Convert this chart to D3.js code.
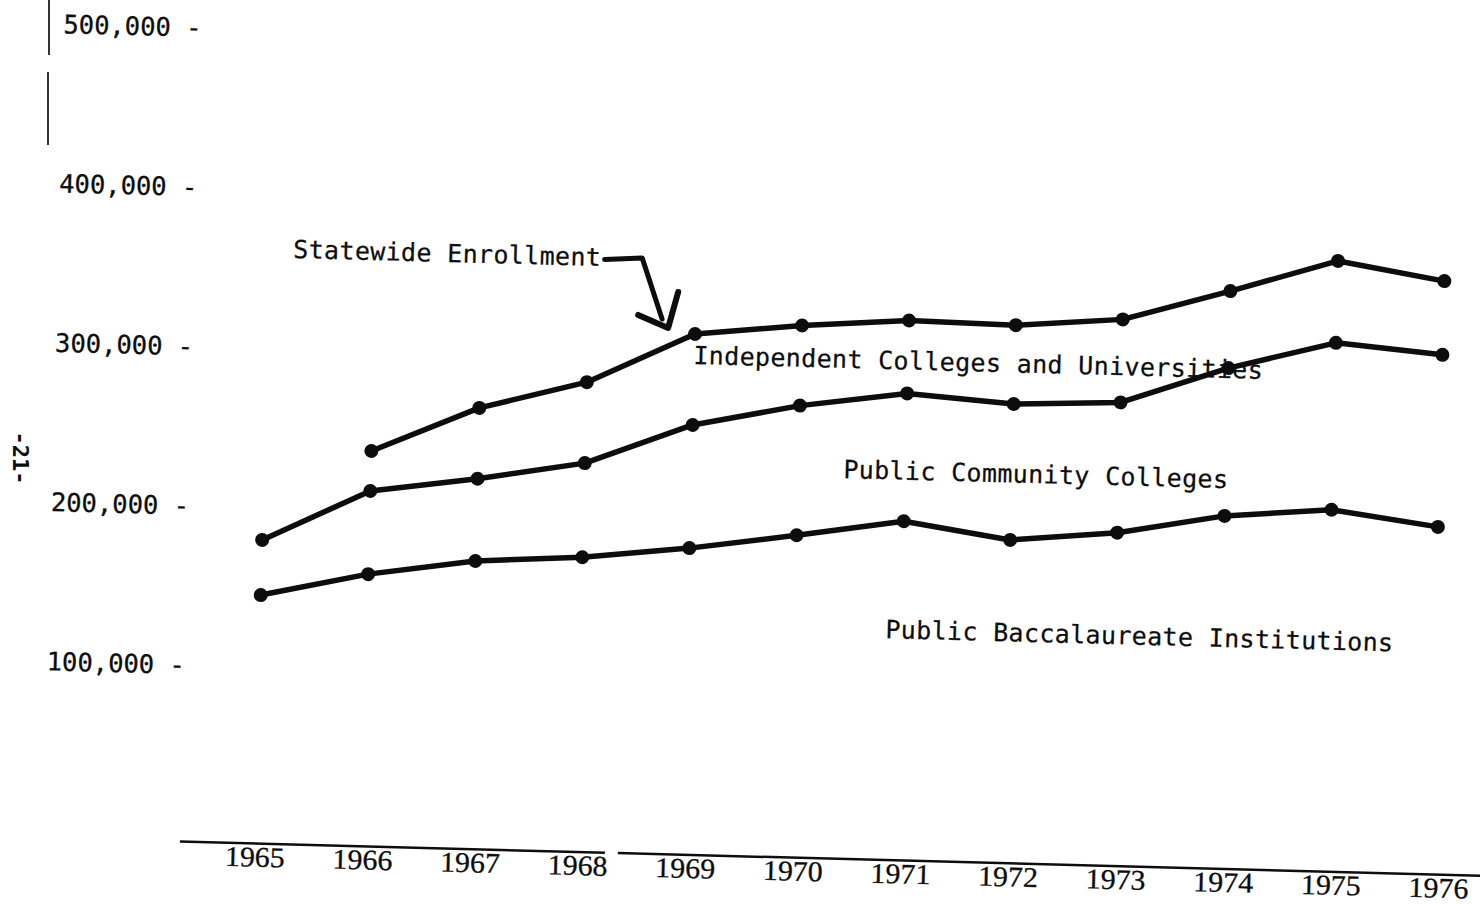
<!DOCTYPE html>
<html><head><meta charset="utf-8">
<script src="https://cdn.jsdelivr.net/npm/d3@7"></script>
<style>
html,body{margin:0;padding:0;background:#fff;}
svg{display:block;background:#fff;}
</style></head><body>
<svg id="chart" width="1480" height="905"></svg>
<script>
// ---- data ----
const years = [1965,1966,1967,1968,1969,1970,1971,1972,1973,1974,1975,1976];
// Statewide enrollment (top line, begins 1966)
const statewideTotal = [null,237500,266300,284200,316200,323300,328200,327000,332400,351900,372600,361700];
// Public community + baccalaureate (middle line)
const publicTotal = [179900,212400,221800,233400,259100,273000,282400,277500,280300,303600,321200,315400];
// Public baccalaureate institutions (bottom line)
const publicBaccalaureate = [145300,160200,170200,174300,181800,191600,202200,192200,198500,210800,216400,207400];
const yTicks = [100000,200000,300000,400000,500000];
const bandLabels = ["Statewide Enrollment","Independent Colleges and Universities","Public Community Colleges","Public Baccalaureate Institutions"];
const pageNumber = "-21-";

// ---- drawing ----
const svg = d3.select("#chart");
const ink = "#0d0d0d";
const mono = "'DejaVu Sans Mono', monospace";

// the scanned page is slightly rotated
const g = svg.append("g").attr("transform","rotate(1.5,200,507)");

const x = d3.scaleLinear().domain([1965,1976]).range([263,1438]);
const xLab = d3.scaleLinear().domain([1965,1976]).range([264,1448]);
const y = d3.scaleLinear().domain([0,500000]).range([825,28.2]);

// y axis
const ya = g.append("g").attr("transform","translate(189,0)")
  .call(d3.axisLeft(y).tickValues(yTicks).tickSize(0).tickPadding(0)
    .tickFormat(d => d3.format(",")(d) + " -"));
ya.select(".domain").remove();
ya.selectAll("text").attr("font-family",mono).attr("font-size",25.5)
  .attr("fill",ink).attr("stroke",ink).attr("stroke-width",0.3);

// x axis line (with the small gap seen in the scan)
const axisY = 842;
[[1964.3,1968.25],[1968.37,1976.6]].forEach(seg => {
  g.append("line").attr("x1",xLab(seg[0])).attr("x2",xLab(seg[1]))
    .attr("y1",axisY).attr("y2",axisY).attr("stroke",ink).attr("stroke-width",2.5);
});
// year labels
g.append("g").selectAll("text").data(years).join("text")
  .attr("transform", d => `translate(${xLab(d)},865) scale(1.05,1)`)
  .attr("text-anchor","middle")
  .attr("font-family","'Liberation Serif', serif")
  .attr("font-size",28.5).attr("fill",ink).attr("stroke",ink).attr("stroke-width",0.3)
  .text(d => d);

// lines
const seriesList = [statewideTotal, publicTotal, publicBaccalaureate];
const line = d3.line()
  .defined(d => d.v != null)
  .x(d => x(d.year)).y(d => y(d.v))
  .curve(d3.curveLinear);
seriesList.forEach(vals => {
  const pts = years.map((yr,i) => ({year:yr, v:vals[i]}));
  g.append("path").datum(pts)
    .attr("d", line).attr("fill","none").attr("stroke",ink)
    .attr("stroke-width",5.5).attr("stroke-linejoin","round").attr("stroke-linecap","round");
  g.append("g").selectAll("circle").data(pts.filter(d => d.v != null)).join("circle")
    .attr("cx", d => x(d.year)).attr("cy", d => y(d.v)).attr("r",7).attr("fill",ink);
});

// band labels
const labelPos = [[286.5,255.6],[689.3,351.1],[842.2,461.2],[888.4,620.1]];
bandLabels.forEach((t,i) => {
  g.append("text").attr("x",labelPos[i][0]).attr("y",labelPos[i][1])
    .attr("font-family",mono).attr("font-size",25).attr("letter-spacing",0.35)
    .attr("fill",ink).attr("stroke",ink).attr("stroke-width",0.25).text(t);
});

// hand-drawn arrow from "Statewide Enrollment" to the statewide line
g.append("path")
  .attr("d","M598,249 L635.5,246.4 L657,307")
  .attr("fill","none").attr("stroke",ink).attr("stroke-width",5)
  .attr("stroke-linejoin","round").attr("stroke-linecap","round");
g.append("path")
  .attr("d","M633,303.5 L663.3,315.7 L672.4,279.5")
  .attr("fill","none").attr("stroke",ink).attr("stroke-width",6)
  .attr("stroke-linejoin","round").attr("stroke-linecap","round");

// scan artefacts: page number and edge line
svg.append("text").attr("transform","translate(20,458) rotate(90)")
  .attr("text-anchor","middle").attr("dominant-baseline","central")
  .attr("font-family",mono).attr("font-size",22).attr("font-weight","bold")
  .attr("fill",ink).text(pageNumber);
svg.append("line").attr("x1",49).attr("x2",49).attr("y1",0).attr("y2",55)
  .attr("stroke","#333").attr("stroke-width",2);
svg.append("line").attr("x1",48).attr("x2",48).attr("y1",72).attr("y2",145)
  .attr("stroke","#333").attr("stroke-width",2);
</script>
</body></html>
